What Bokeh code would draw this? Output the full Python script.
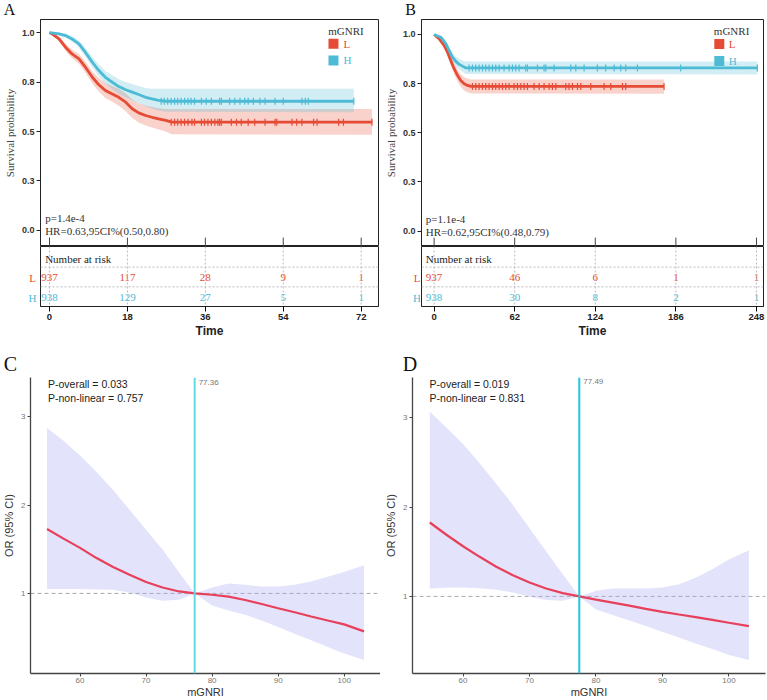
import numpy as np
from bokeh.plotting import figure
from bokeh.layouts import column, row
from bokeh.models import Range1d, Span, Label, FixedTicker
from bokeh.core.properties import value
from bokeh.embed import file_html
from bokeh.resources import INLINE

RED = "#E64B35"
BLUE = "#4DBBD5"
SERIF = "Liberation Serif"
SANS = "Liberation Sans"

# ---------------- Panel A (KM) ----------------
a_L_t = [0, 0.6, 2.2, 3.7, 5.2, 6.8, 8.3, 9.9, 11.4, 12.9, 14.5, 16, 17.6, 19.1, 20.6, 22.2, 23.7, 25.2, 26.8, 28.3, 74.5]
a_L_s = [1.0, 0.993, 0.968, 0.926, 0.892, 0.867, 0.825, 0.774, 0.736, 0.707, 0.690, 0.673, 0.648, 0.615, 0.594, 0.581, 0.572, 0.564, 0.556, 0.547, 0.547]
a_L_hi = [1.0, 1.0, 0.98, 0.944, 0.914, 0.892, 0.853, 0.805, 0.77, 0.745, 0.73, 0.716, 0.693, 0.662, 0.643, 0.632, 0.624, 0.618, 0.614, 0.614, 0.614]
a_L_lo = [1.0, 0.986, 0.956, 0.908, 0.87, 0.842, 0.797, 0.743, 0.702, 0.669, 0.65, 0.63, 0.603, 0.568, 0.545, 0.53, 0.52, 0.51, 0.5, 0.486, 0.484]
a_H_t = [0, 2.2, 3.7, 5.2, 6.8, 8.3, 9.9, 11.4, 12.9, 14.5, 16, 17.6, 19.1, 20.6, 22.2, 23.7, 25.2, 26.8, 70.3]
a_H_s = [1.0, 0.993, 0.985, 0.968, 0.943, 0.900, 0.850, 0.808, 0.774, 0.749, 0.727, 0.711, 0.699, 0.687, 0.673, 0.665, 0.657, 0.653, 0.653]
a_H_hi = [1.0, 1.0, 0.995, 0.982, 0.96, 0.922, 0.876, 0.838, 0.806, 0.784, 0.764, 0.75, 0.74, 0.73, 0.72, 0.716, 0.716, 0.716, 0.716]
a_H_lo = [1.0, 0.986, 0.975, 0.954, 0.926, 0.878, 0.824, 0.778, 0.742, 0.714, 0.69, 0.672, 0.658, 0.644, 0.628, 0.616, 0.606, 0.6, 0.597]
a_L_cens = [28.1, 28.9, 29.6, 30.4, 31.2, 32, 32.9, 33.5, 35.1, 35.8, 36.6, 37.4, 38.2, 38.9, 39.3, 39.7, 42, 43.2, 44.3,
            45.9, 47.4, 49.8, 52.1, 52.5, 56, 57.1, 58.3, 61, 61.8, 66.8, 67.9, 74.5]
a_H_cens = [25.8, 26.5, 27.3, 28.1, 28.9, 29.6, 30.4, 31.2, 32, 32.7, 33.5, 35.1, 36.2, 37.4, 39.3, 39.7, 41.6, 42.8, 44,
            45.1, 45.9, 47.1, 48.6, 49.8, 52.1, 54, 58.3, 59.1, 59.8, 70.3]
a_ticks = [0, 18, 36, 54, 72]
a_risk_L = [937, 117, 28, 9, 1]
a_risk_H = [938, 129, 27, 5, 1]
a_p = "p=1.4e-4"
a_hr = "HR=0.63,95CI%(0.50,0.80)"

# ---------------- Panel B (KM) ----------------
b_L_t = [0, 3.8, 7.7, 10.3, 12.8, 15.4, 18, 20.5, 23.1, 25.7, 28.2, 176.9]
b_L_s = [1.0, 0.978, 0.944, 0.910, 0.868, 0.826, 0.792, 0.766, 0.749, 0.741, 0.736, 0.736]
b_L_hi = [1.0, 0.988, 0.96, 0.93, 0.892, 0.853, 0.822, 0.799, 0.783, 0.776, 0.771, 0.771]
b_L_lo = [1.0, 0.968, 0.928, 0.89, 0.844, 0.799, 0.762, 0.733, 0.715, 0.706, 0.70, 0.698]
b_H_t = [0, 5.1, 9, 11.5, 14.1, 16.7, 19.2, 21.8, 24.4, 248.7]
b_H_s = [1.0, 0.986, 0.953, 0.919, 0.885, 0.863, 0.848, 0.839, 0.83, 0.83]
b_H_hi = [1.0, 0.994, 0.968, 0.938, 0.907, 0.887, 0.875, 0.867, 0.863, 0.863]
b_H_lo = [1.0, 0.978, 0.938, 0.90, 0.863, 0.839, 0.821, 0.81, 0.799, 0.797]
b_L_cens = [29.5, 32, 34.6, 37.2, 39.7, 42.3, 44.9, 47.4, 50, 52.6, 55.1, 57.7, 61.5, 64.1, 66.7, 69.2, 71.8, 76.9, 80.8,
            84.6, 88.5, 91, 93.6, 101.3, 103.8, 106.4, 110.3, 112.8, 120.5, 130.8, 135.9, 144.9, 147.4, 176.9]
b_H_cens = [26.9, 29.5, 32, 34.6, 37.2, 39.7, 42.3, 44.9, 47.4, 50, 53.8, 57.7, 60.3, 62.8, 65.4, 70.5, 71.8, 79.5, 84.6,
            85.9, 92.3, 105.1, 109, 115.4, 125.6, 132, 138.5, 143.6, 147.4, 156.4, 189.7, 248.7]
b_ticks = [0, 62, 124, 186, 248]
b_risk_L = [937, 46, 6, 1, 1]
b_risk_H = [938, 30, 8, 2, 1]
b_p = "p=1.1e-4"
b_hr = "HR=0.62,95CI%(0.48,0.79)"

surv_ticks = [0, 0.25, 0.5, 0.75, 1.0]
surv_labels = ["0.0", "0.3", "0.5", "0.8", "1.0"]
groups = ["L", "H"]

# ---------------- Panels C / D (RCS) ----------------
rcs_x_c = [55, 57.5, 60, 62.5, 65, 67.5, 70, 72.5, 75, 77.36, 80, 82.5, 85, 87.5, 90, 92.5, 95, 97.5, 100, 103]
c_or = [1.729, 1.62, 1.516, 1.40, 1.30, 1.21, 1.13, 1.067, 1.022, 1.0, 0.985, 0.963, 0.925, 0.88, 0.832, 0.787, 0.738, 0.693, 0.649, 0.57]
c_hi = [2.873, 2.73, 2.563, 2.376, 2.17, 1.946, 1.72, 1.497, 1.236, 1.0, 1.067, 1.112, 1.097, 1.079, 1.079, 1.097, 1.135, 1.19, 1.243, 1.318]
c_lo = [1.049, 1.05, 1.049, 1.045, 1.041, 1.011, 0.955, 0.918, 0.929, 1.0, 0.862, 0.806, 0.757, 0.693, 0.619, 0.544, 0.469, 0.394, 0.32, 0.245]
c_ref = 77.36
c_p1 = "P-overall = 0.033"
c_p2 = "P-non-linear = 0.757"

rcs_x_d = [55, 57.5, 60, 62.5, 65, 67.5, 70, 72.5, 75, 77.49, 80, 82.5, 85, 87.5, 90, 92.5, 95, 97.5, 100, 103]
d_or = [1.827, 1.69, 1.561, 1.443, 1.332, 1.236, 1.155, 1.089, 1.037, 1.0, 0.963, 0.93, 0.897, 0.86, 0.827, 0.797, 0.768, 0.738, 0.705, 0.668]
d_hi = [3.066, 2.889, 2.705, 2.491, 2.262, 2.022, 1.764, 1.506, 1.247, 1.0, 1.063, 1.089, 1.089, 1.089, 1.1, 1.137, 1.21, 1.303, 1.413, 1.517]
d_lo = [1.089, 1.096, 1.1, 1.092, 1.074, 1.044, 1.0, 0.959, 0.952, 1.0, 0.852, 0.793, 0.731, 0.668, 0.601, 0.539, 0.472, 0.41, 0.343, 0.288]
d_ref = 77.49
d_p1 = "P-overall = 0.019"
d_p2 = "P-non-linear = 0.831"

rcs_xticks = [60, 70, 80, 90, 100]
rcs_yticks = [1, 2, 3]
panel_letters = ["A", "B", "C", "D"]


def strip(W, H, xs, ys, texts, colors, size, yr=None, bottom=0):
    f = figure(width=W, height=H, x_range=Range1d(0, W), y_range=Range1d(*(yr or (0, H))),
               x_axis_location=None, y_axis_location=None, toolbar_location=None,
               output_backend="svg", min_border=0, min_border_bottom=bottom)
    f.outline_line_color = None
    f.grid.visible = False
    f.text(x=xs, y=ys, text=texts, text_color=colors, text_font=value(SERIF), text_font_size=size,
           text_align="center", text_baseline="middle")
    return f


def km_panel(W, bl, br, xr, yr, series, ticks, risk, ptxt, hrtxt, txt_x, leg, rowlab_x):
    p = figure(width=W, height=228, x_range=Range1d(*xr), y_range=Range1d(*yr),
               x_axis_location=None, toolbar_location=None, output_backend="svg",
               min_border_left=bl, min_border_right=br, min_border_top=1, min_border_bottom=0)
    p.outline_line_color = "#222222"
    p.outline_line_width = 1
    p.grid.visible = False
    ax = p.yaxis[0]
    ax.ticker = FixedTicker(ticks=surv_ticks)
    ax.major_label_overrides = {t: l for t, l in zip(surv_ticks, surv_labels)}
    ax.axis_line_color = "#222222"
    ax.major_tick_out = 4
    ax.major_tick_in = 0
    ax.major_tick_line_color = "#222222"
    ax.minor_tick_line_color = None
    ax.major_label_text_font = SANS
    ax.major_label_text_font_style = "bold"
    ax.major_label_text_font_size = "9px"
    ax.major_label_text_color = "#333333"
    ax.major_label_standoff = 2
    ax.axis_label = "Survival probability"
    ax.axis_label_text_font = SERIF
    ax.axis_label_text_font_style = "normal"
    ax.axis_label_text_font_size = "11px"
    ax.axis_label_text_color = "#444444"
    ax.axis_label_standoff = 3

    for (t, s, hi, lo, cens, col) in series:
        p.varea(x=t, y1=lo, y2=hi, fill_color=col, fill_alpha=0.25)
    for (t, s, hi, lo, cens, col) in series:
        p.line(x=t, y=s, line_color=col, line_width=2.8)
        p.scatter(x=cens, y=[s[-1]] * len(cens), marker="dash", angle=np.pi / 2, size=7,
                  line_color=col, line_width=1.2)

    y0 = yr[0]
    p.segment(x0=ticks, y0=[y0] * len(ticks), x1=ticks, y1=[y0 + 0.045] * len(ticks),
              line_color="#444444", line_width=1)

    p.add_layout(Label(x=txt_x, y=0.062, text=ptxt, text_font=SERIF, text_font_size="11px",
                       text_color="#333333", text_baseline="middle"))
    p.add_layout(Label(x=txt_x, y=-0.003, text=hrtxt, text_font=SERIF, text_font_size="11px",
                       text_color="#333333", text_baseline="middle"))

    lx_title, lx_sq, lx_lab, ly_title, ly_L, ly_H = leg
    p.add_layout(Label(x=lx_title, y=ly_title, text="mGNRI", text_font=SERIF, text_font_size="11px",
                       text_color="#333333", text_baseline="middle"))
    p.scatter(x=[lx_sq, lx_sq], y=[ly_L, ly_H], marker="square", size=10,
              fill_color=[RED, BLUE], line_color=None)
    for g, yy, col in zip(groups, [ly_L, ly_H], [RED, BLUE]):
        p.add_layout(Label(x=lx_lab, y=yy, text=g, text_font=SERIF, text_font_size="11px",
                           text_color=col, text_baseline="middle"))

    # risk table: left strip with row labels + table figure (frames aligned: same y range)
    lab = strip(bl - 1, 94, [rowlab_x, rowlab_x], [29, 9], groups, [RED, BLUE], "11px",
                yr=(0, 61), bottom=33)
    tf = figure(width=W - bl + 1, height=94, x_range=p.x_range, y_range=Range1d(0, 61),
                y_axis_location=None, toolbar_location=None, output_backend="svg",
                min_border_left=1, min_border_right=br, min_border_top=0, min_border_bottom=33)
    tf.outline_line_color = "#222222"
    tf.grid.visible = False
    xa = tf.xaxis[0]
    xa.ticker = FixedTicker(ticks=ticks)
    xa.axis_line_color = "#222222"
    xa.major_tick_out = 5
    xa.major_tick_in = 0
    xa.minor_tick_line_color = None
    xa.major_label_text_font = SANS
    xa.major_label_text_font_style = "bold"
    xa.major_label_text_font_size = "9.5px"
    xa.major_label_text_color = "#222222"
    xa.major_label_standoff = 2
    xa.axis_label = "Time"
    xa.axis_label_text_font = SANS
    xa.axis_label_text_font_style = "bold"
    xa.axis_label_text_font_size = "12px"
    xa.axis_label_text_color = "#222222"
    xa.axis_label_standoff = 1
    for t in ticks:
        tf.add_layout(Span(location=t, dimension="height", line_color="#BBBBBB", line_dash="2 2", line_width=1))
    for yy in [40, 20]:
        tf.add_layout(Span(location=yy, dimension="width", line_color="#BBBBBB", line_dash="2 2", line_width=1))
    tf.add_layout(Label(x=txt_x, y=48, text="Number at risk", text_font=SERIF, text_font_size="11px",
                        text_color="#222222", text_baseline="middle"))
    for yy, col, vals in zip([29, 9], [RED, BLUE], risk):
        tf.text(x=ticks, y=[yy] * len(ticks), text=[str(v) for v in vals], text_font=value(SERIF),
                text_font_size="11px", text_color=col, text_align="center", text_baseline="middle")
    return column(p, row(lab, tf, spacing=0), spacing=0)


panelA = km_panel(380, 40, 2, (-2.08, 76.0), (-0.081, 1.066),
                  [(a_L_t, a_L_s, a_L_hi, a_L_lo, a_L_cens, RED), (a_H_t, a_H_s, a_H_hi, a_H_lo, a_H_cens, BLUE)],
                  a_ticks, [a_risk_L, a_risk_H], a_p, a_hr, -1.0,
                  (64.4, 65.6, 67.9, 1.01, 0.944, 0.859), 32)
panelB = km_panel(387, 41, 4, (-9.7, 253.4), (-0.078, 1.076),
                  [(b_L_t, b_L_s, b_L_hi, b_L_lo, b_L_cens, RED), (b_H_t, b_H_s, b_H_hi, b_H_lo, b_H_cens, BLUE)],
                  b_ticks, [b_risk_L, b_risk_H], b_p, b_hr, -6.4,
                  (215.2, 219.4, 226.7, 1.02, 0.952, 0.865), 36.5)


def rcs_panel(W, bl, br, xr, yr, x, orv, hi, lo, ref, p1, p2, txt_xy, cyan):
    f = figure(width=W, height=324, x_range=Range1d(*xr), y_range=Range1d(*yr),
               toolbar_location=None, output_backend="svg",
               min_border_left=bl, min_border_right=br, min_border_top=1, min_border_bottom=25)
    f.outline_line_color = None
    f.grid.visible = False
    for ax in (f.xaxis[0], f.yaxis[0]):
        ax.axis_line_color = "#444444"
        ax.axis_line_width = 1.3
        ax.major_tick_out = 3
        ax.major_tick_in = 0
        ax.major_tick_line_color = "#444444"
        ax.minor_tick_line_color = None
        ax.major_label_text_font = SANS
        ax.major_label_text_font_size = "8px"
        ax.major_label_text_color = "#777777"
        ax.major_label_standoff = 1
        ax.axis_label_text_font = SANS
        ax.axis_label_text_font_style = "normal"
        ax.axis_label_text_font_size = "11px"
        ax.axis_label_text_color = "#333333"
        ax.axis_label_standoff = 0
    f.xaxis[0].ticker = FixedTicker(ticks=rcs_xticks)
    f.yaxis[0].ticker = FixedTicker(ticks=rcs_yticks)
    f.xaxis[0].axis_label = "mGNRI"
    f.yaxis[0].axis_label = "OR (95% CI)"
    f.yaxis[0].axis_label_standoff = 3
    f.yaxis[0].major_label_standoff = 2

    f.add_layout(Span(location=1, dimension="width", line_color="#AAAAAA", line_dash="4 3",
                      line_width=1, level="underlay"))
    f.varea(x=x, y1=lo, y2=hi, fill_color="#A8A8F2", fill_alpha=0.32)
    f.line(x=x, y=orv, line_color="#E8405A", line_width=2.2)
    f.add_layout(Span(location=ref, dimension="height", line_color=cyan, line_width=2))
    f.add_layout(Label(x=ref, y=txt_xy[2], x_offset=4, text=f"{ref:.2f}", text_font=SANS,
                       text_font_size="8px", text_color="#777777", text_baseline="middle"))
    f.add_layout(Label(x=txt_xy[0], y=txt_xy[1], text=p1, text_font=SANS, text_font_size="10.5px",
                       text_color="#222222", text_baseline="middle"))
    f.add_layout(Label(x=txt_xy[0], y=txt_xy[3], text=p2, text_font=SANS, text_font_size="10.5px",
                       text_color="#222222", text_baseline="middle"))
    return f


panelC = rcs_panel(380, 27, 0, (52.5, 105.5), (0.093, 3.445),
                   rcs_x_c, c_or, c_hi, c_lo, c_ref, c_p1, c_p2, (55.15, 3.374, 3.389, 3.213), "#5EDCE4")
panelD = rcs_panel(387, 32, 2, (52.4, 105.5), (0.137, 3.45),
                   rcs_x_d, d_or, d_hi, d_lo, d_ref, d_p1, d_p2, (54.97, 3.376, 3.41, 3.218), "#1CC8DD")

stripAB = strip(767, 18, [9, 410], [9, 9], panel_letters[:2], ["#111111", "#111111"], "16px")
stripCD = strip(767, 36, [10, 409.5], [12.5, 12.5], panel_letters[2:], ["#111111", "#111111"], "20px")

layout = column(stripAB, row(panelA, panelB, spacing=0), stripCD, row(panelC, panelD, spacing=0), spacing=0)

open("out.html", "w").write(file_html(layout, INLINE))
